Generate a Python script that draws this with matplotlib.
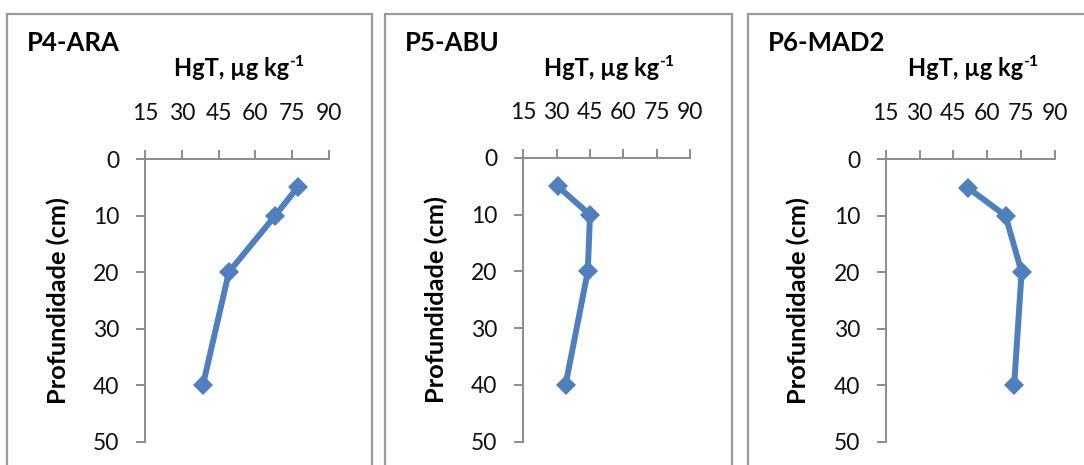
import matplotlib
matplotlib.use("Agg")
import matplotlib.pyplot as plt
from matplotlib.patches import Rectangle

plt.rcParams["font.family"] = ["Lato", "DejaVu Sans"]

# Soil profiles: total mercury (HgT) vs depth
depth_cm = [5, 10, 20, 40]
profile_names = ["P4-ARA", "P5-ABU", "P6-MAD2"]
hgt_p4 = [77.2, 68.1, 49.2, 38.6]
hgt_p5 = [30.5, 45.0, 44.0, 34.0]
hgt_p6 = [51.3, 68.1, 75.2, 71.9]
x_ticks = [15, 30, 45, 60, 75, 90]
y_ticks = [0, 10, 20, 30, 40, 50]

series = [hgt_p4, hgt_p5, hgt_p6]

W, H = 1084, 465
fig = plt.figure(figsize=(W / 100, H / 100), dpi=100)

# panel frames (left, right) and plot areas (left, right, top, bottom) in pixels
frames = [(7, 372), (385, 732), (748, 1100)]
areas = [(145, 329, 159, 441.7), (523.3, 690, 158, 441.7), (885.7, 1055, 159.3, 441.7)]

line_color = "#4F7FBD"
axis_color = "#8C8C8C"

for name, vals, (fl, fr), (al, ar, at, ab) in zip(profile_names, series, frames, areas):
    fig.patches.append(Rectangle((fl / W, 1 - 475 / H), (fr - fl) / W, (475 - 14) / H,
                                 transform=fig.transFigure, fill=False,
                                 ec="#9A9A9A", lw=1.6, zorder=0))
    ax = fig.add_axes([al / W, 1 - ab / H, (ar - al) / W, (ab - at) / H])
    ax.plot(vals, depth_cm, color=line_color, lw=4.3, marker="D", ms=10,
            mew=0, solid_joinstyle="round", clip_on=False, zorder=3)
    ax.set_xlim(15, 90)
    ax.set_ylim(50, 0)
    ax.set_xticks(x_ticks)
    ax.set_yticks(y_ticks)
    ax.xaxis.tick_top()
    for s in ("right", "bottom"):
        ax.spines[s].set_visible(False)
    for s in ("left", "top"):
        ax.spines[s].set_color(axis_color)
        ax.spines[s].set_linewidth(1.4)
    ax.tick_params(axis="both", direction="out", length=6.5, width=1.4,
                   color=axis_color, labelsize=16.5, labelcolor="#111111")
    ax.tick_params(axis="x", pad=19)
    ax.tick_params(axis="y", pad=12)
    ax.set_facecolor("none")

    cx = (al + ar) / 2
    main = fig.text((cx - 5) / W, 1 - 68 / H, "HgT, µg kg", ha="center", va="center",
                    fontsize=17, fontweight="bold")
    ax.annotate("-1", xy=(1, 0.78), xycoords=main, ha="left", va="center",
                fontsize=11.5, fontweight="bold", annotation_clip=False)
    fig.text((fl + 20) / W, 1 - 43 / H, name, ha="left", va="center",
             fontsize=18.5, fontweight="bold")
    fig.text((al - 87) / W, 1 - (at + ab) / 2 / H, "Profundidade (cm)", rotation=90,
             ha="center", va="center", fontsize=18.3, fontweight="bold")

fig.savefig("out.png", dpi=100)
